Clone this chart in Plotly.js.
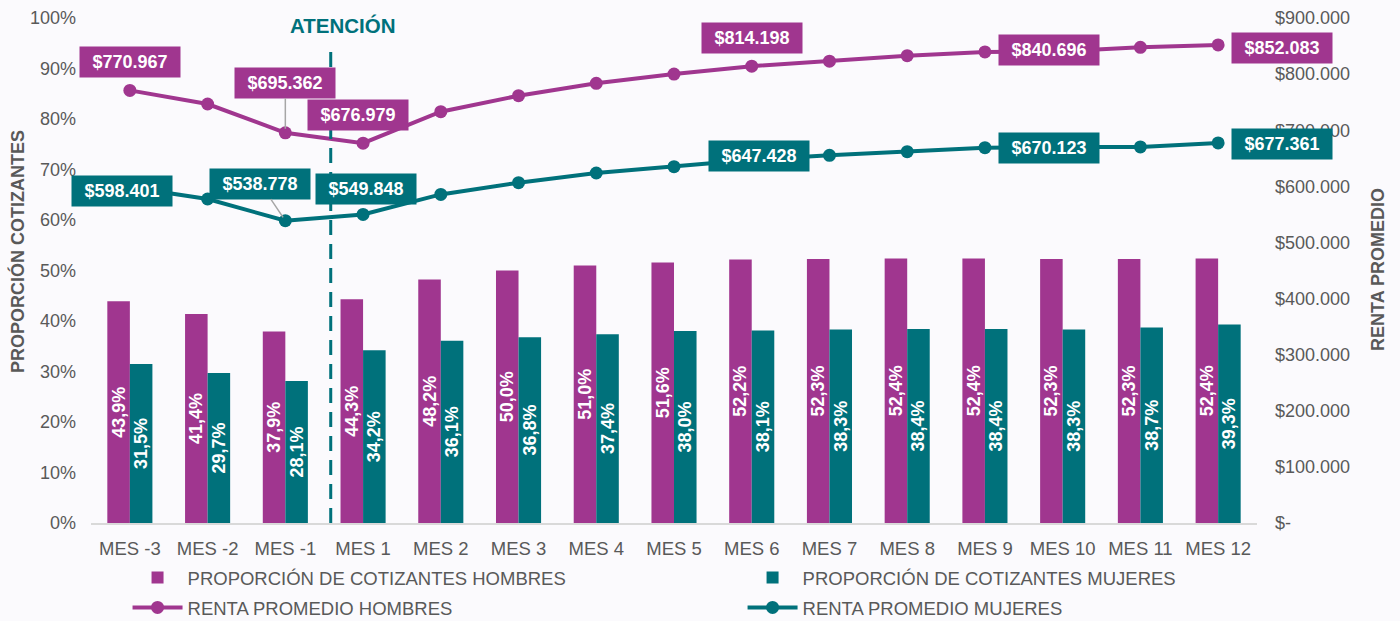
<!DOCTYPE html>
<html>
<head>
<meta charset="utf-8">
<script src="https://cdn.plot.ly/plotly-3.0.1.min.js"></script>
<style>
  html, body { margin: 0; padding: 0; background: #fbfafd; }
  #chart { width: 1400px; height: 621px; }
</style>
</head>
<body>
<div id="chart"></div>
<script>
// ---------------- DATA ----------------
const categories = ['MES -3','MES -2','MES -1','MES 1','MES 2','MES 3','MES 4','MES 5','MES 6','MES 7','MES 8','MES 9','MES 10','MES 11','MES 12'];
const propHombres = [43.9, 41.4, 37.9, 44.3, 48.2, 50.0, 51.0, 51.6, 52.2, 52.3, 52.4, 52.4, 52.3, 52.3, 52.4];
const propMujeres = [31.5, 29.7, 28.1, 34.2, 36.1, 36.8, 37.4, 38.0, 38.1, 38.3, 38.4, 38.4, 38.3, 38.7, 39.3];
const rentaHombres = [770967, 746700, 695362, 676979, 733000, 761500, 783600, 800000, 814198, 823000, 832800, 839500, 840696, 847700, 852083];
const rentaMujeres = [598401, 577400, 538778, 549848, 585600, 606500, 623800, 635000, 647428, 655300, 661800, 668900, 670123, 670200, 677361];
const leftTickVals = [0,10,20,30,40,50,60,70,80,90,100];
const leftTickText = ['0%','10%','20%','30%','40%','50%','60%','70%','80%','90%','100%'];
const rightTickVals = [0,100000,200000,300000,400000,500000,600000,700000,800000,900000];
const rightTickText = ['$-','$100.000','$200.000','$300.000','$400.000','$500.000','$600.000','$700.000','$800.000','$900.000'];
const seriesNames = ['PROPORCIÓN DE COTIZANTES HOMBRES','PROPORCIÓN DE COTIZANTES MUJERES','RENTA PROMEDIO HOMBRES','RENTA PROMEDIO MUJERES'];
const leftTitle = 'PROPORCIÓN COTIZANTES';
const rightTitle = 'RENTA PROMEDIO';
const labeledH = [0, 2, 3, 8, 12, 14];
const labeledM = [0, 2, 3, 8, 12, 14];
const markerText = 'ATENCIÓN';

// ---------------- STYLE ----------------
const MAG = '#a0368f';
const TEAL = '#00717b';
const GREY = '#595959';
const BG = '#fbfafd';
const FONT = '"Liberation Sans", Arial, sans-serif';
// label placement offsets (px) for each labeled point, same order as labeledH / labeledM
const placeH = [ {dx:0, dy:-28}, {dx:0, dy:-50, leader:true}, {dx:-5, dy:-28}, {dx:0, dy:-28}, {dx:-14, dy:-1}, {dx:64, dy:3} ];
const placeM = [ {dx:-8, dy:4}, {dx:-25, dy:-37, leader:true}, {dx:3, dy:-25}, {dx:7, dy:-4}, {dx:-14, dy:1}, {dx:64, dy:1} ];

const pct = v => v.toFixed(1).replace('.', ',') + '%';
const money = v => '$' + Math.round(v).toString().replace(/\B(?=(\d{3})+(?!\d))/g, '.');

const barText = {family:FONT, size:18, color:'#ffffff', weight:'bold'};
const traces = [
  { type:'bar', name:seriesNames[0], x:categories, y:propHombres, yaxis:'y', legend:'legend',
    marker:{color:MAG}, text:propHombres.map(pct), textposition:'inside', textangle:-90,
    insidetextanchor:'middle', constraintext:'none', textfont:barText, hoverinfo:'skip' },
  { type:'bar', name:seriesNames[1], x:categories, y:propMujeres, yaxis:'y', legend:'legend2',
    marker:{color:TEAL}, text:propMujeres.map(pct), textposition:'inside', textangle:-90,
    insidetextanchor:'middle', constraintext:'none', textfont:barText, hoverinfo:'skip' },
  { type:'scatter', mode:'lines+markers', name:seriesNames[2], x:categories, y:rentaHombres, yaxis:'y2',
    legend:'legend3', line:{color:MAG, width:4}, marker:{color:MAG, size:13}, hoverinfo:'skip' },
  { type:'scatter', mode:'lines+markers', name:seriesNames[3], x:categories, y:rentaMujeres, yaxis:'y2',
    legend:'legend4', line:{color:TEAL, width:4}, marker:{color:TEAL, size:13}, hoverinfo:'skip' }
];

function makeLabels(idx, place, values, color) {
  return idx.map((i, k) => {
    const p = place[k];
    const base = {
      xref:'x', yref:'y2', x:categories[i], y:values[i], text:money(values[i]),
      font:{family:FONT, size:18, color:'#ffffff', weight:'bold'},
      bgcolor:color, width:100, height:30, borderpad:0, align:'center', valign:'middle'
    };
    if (p.leader) {
      return Object.assign(base, {showarrow:true, ax:p.dx, ay:p.dy, arrowhead:0, arrowwidth:1.5,
        arrowcolor:'#a6a6a6', standoff:4});
    }
    return Object.assign(base, {showarrow:false, xshift:p.dx, yshift:-p.dy});
  });
}

const titleFont = {family:FONT, size:18, color:GREY, weight:'bold'};
const annotations = [
  ...makeLabels(labeledH, placeH, rentaHombres, MAG),
  ...makeLabels(labeledM, placeM, rentaMujeres, TEAL),
  { xref:'x', yref:'paper', x:2.742, y:0.986, text:markerText, showarrow:false,
    font:{family:FONT, size:20.5, color:TEAL, weight:'bold'}, yanchor:'middle' },
  { xref:'paper', yref:'paper', x:-0.0635, y:0.5386, text:leftTitle, textangle:-90, showarrow:false,
    font:titleFont, xanchor:'center', yanchor:'middle' },
  { xref:'paper', yref:'paper', x:1.1038, y:0.501, text:rightTitle, textangle:-90, showarrow:false,
    font:titleFont, xanchor:'center', yanchor:'middle' }
];

const legendBase = {orientation:'h', xref:'container', yref:'container', xanchor:'left', yanchor:'top',
  itemwidth:50, font:{family:FONT, size:18.5, color:GREY}, bgcolor:'rgba(0,0,0,0)', borderwidth:0};
const colX = [0.0911, 0.5304];
const rowY = [0.10, 0.0517];

const layout = {
  width:1400, height:621,
  margin:{l:91, r:143, t:18, b:98},
  paper_bgcolor:BG, plot_bgcolor:BG,
  font:{family:FONT, size:18, color:GREY},
  barmode:'group', bargap:0.42, bargroupgap:0,
  showlegend:true,
  legend:Object.assign({}, legendBase, {x:colX[0], y:rowY[0]}),
  legend2:Object.assign({}, legendBase, {x:colX[1], y:rowY[0]}),
  legend3:Object.assign({}, legendBase, {x:colX[0], y:rowY[1]}),
  legend4:Object.assign({}, legendBase, {x:colX[1], y:rowY[1]}),
  xaxis:{type:'category', range:[-0.5, 14.5], showgrid:false, zeroline:false, showline:true, linecolor:'#d9d9d9', linewidth:2,
    ticks:'', ticklabelstandoff:8, tickfont:{family:FONT, size:18.5, color:GREY}, fixedrange:true},
  yaxis:{range:[0,100], tickvals:leftTickVals, ticktext:leftTickText, showgrid:false, zeroline:false, showline:false,
    ticks:'', ticklabelstandoff:14, tickfont:{family:FONT, size:18, color:GREY}, fixedrange:true},
  yaxis2:{overlaying:'y', side:'right', range:[0,900000], tickvals:rightTickVals, ticktext:rightTickText,
    showgrid:false, zeroline:false, showline:false, ticks:'', ticklabelstandoff:17,
    tickfont:{family:FONT, size:18, color:GREY}, fixedrange:true},
  shapes:[
    { type:'line', xref:'x', yref:'paper', x0:2.584, x1:2.584, y0:0, y1:0.9465, layer:'above',
      line:{color:TEAL, width:3, dash:'15px,9px'} }
  ],
  annotations: annotations
};

Plotly.newPlot('chart', traces, layout, {displayModeBar:false, staticPlot:true});
</script>
</body>
</html>
